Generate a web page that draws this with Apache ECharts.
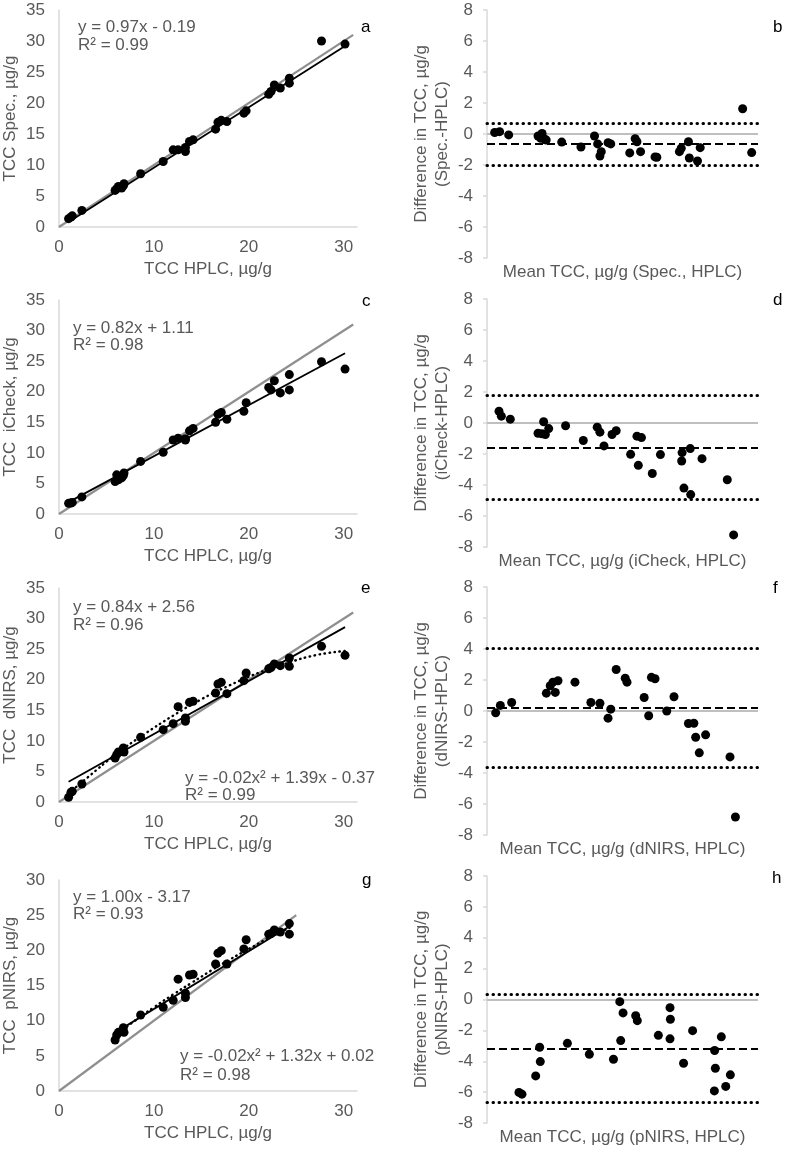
<!DOCTYPE html>
<html><head><meta charset="utf-8">
<script src="https://cdn.jsdelivr.net/npm/echarts@6/dist/echarts.min.js"></script>
<style>html,body{margin:0;padding:0;background:#fff}#c{width:785px;height:1149px}</style>
</head><body><div id="c"></div>
<script>
// ---------- data ----------
const hplc    = [1.01,1.26,1.40,2.41,5.91,6.08,6.26,6.60,6.78,6.85,8.60,10.98,12.03,12.55,13.32,13.32,13.75,14.13,16.50,16.75,17.10,17.69,19.48,19.72,22.10,22.34,22.69,23.32,24.27,24.27,27.66,30.14];
const specY   = [1.34,1.61,1.80,2.68,5.90,6.17,6.55,6.28,6.66,6.98,8.59,10.57,12.45,12.45,12.18,12.83,13.80,14.06,15.78,16.90,17.20,17.00,18.36,18.73,21.40,21.85,22.90,22.40,23.20,24.00,30.00,29.50];
const icheckY = [1.74,1.80,1.90,2.80,5.30,6.40,5.60,5.90,6.30,6.70,8.60,10.10,12.10,12.40,12.10,12.30,13.60,14.00,15.00,16.30,16.60,15.50,16.80,18.20,20.70,20.30,21.80,19.80,22.80,20.30,24.90,23.70];
const dnirsY  = [0.76,1.58,1.74,2.94,7.20,7.74,8.18,8.29,8.83,8.18,10.58,11.83,12.81,15.59,13.74,13.20,16.30,16.47,17.83,19.30,19.57,17.72,19.85,21.10,21.80,22.00,22.57,22.30,22.19,23.55,25.46,23.99];
const pnirsX  = [5.91,6.08,6.26,6.60,6.78,6.85,8.60,10.98,12.03,12.55,13.32,13.32,13.75,14.13,16.50,16.75,17.10,17.69,19.48,19.72,22.10,22.34,22.69,23.32,24.27,24.27];
const pnirsY  = [7.25,7.96,8.34,8.44,9.00,8.34,10.80,11.90,12.90,15.90,13.90,13.30,16.50,16.60,18.05,19.60,19.95,18.05,20.20,21.50,22.30,22.40,22.90,22.60,22.30,23.80];

// 1:1 lines and fitted trendlines
const identityX = [0, 31],  identityY = [0, 31];
const identityGX = [0, 25], identityGY = [0, 25];
const specFitX   = [1.01, 30.14], specFitY   = [0.80, 29.20];
const icheckFitX = [1.01, 30.14], icheckFitY = [1.94, 26.30];
const dnirsFitX  = [1.01, 30.14], dnirsFitY  = [3.30, 28.60];
const pnirsFitX  = [5.91, 24.27], pnirsFitY  = [8.30, 23.40];
const dnirsCurveX = [1, 3, 6, 9, 12, 15, 18, 21, 24, 27, 30.1];
const dnirsCurveY = [1.4, 4.0, 7.8, 11.1, 14.1, 16.8, 19.1, 21.1, 22.7, 24.0, 24.7];
const pnirsCurveX = [5.9, 8, 10, 12, 14, 16, 18, 20, 22, 24.3];
const pnirsCurveY = [7.9, 10.0, 11.9, 13.7, 15.4, 17.1, 18.7, 20.2, 21.7, 23.2];

// Bland-Altman panels (mean, difference)
const baSpecX = [0.85,1.40,2.40,5.65,6.10,5.95,6.40,6.55,8.27,10.40,11.90,12.25,12.50,12.65,13.40,13.70,15.80,16.40,16.60,17.00,18.60,18.80,21.30,21.50,22.30,22.40,23.30,23.60,28.30,29.30];
const baSpecY = [0.10,0.15,-0.06,-0.13,0.04,-0.28,-0.34,-0.39,-0.52,-0.84,-0.13,-0.64,-1.42,-1.14,-0.56,-0.64,-1.22,-0.30,-0.50,-1.14,-1.48,-1.50,-1.14,-0.92,-0.50,-1.55,-1.74,-0.88,1.63,-1.20];
const baIcheckX = [1.33,1.59,2.58,5.65,6.09,6.27,6.46,6.83,8.70,10.66,12.20,12.50,12.95,13.84,14.30,15.90,16.60,16.75,17.10,18.30,19.20,21.55,21.60,21.80,22.50,22.55,23.80,26.60,27.30];
const baIcheckY = [0.76,0.44,0.25,-0.66,-0.70,0.08,-0.74,-0.36,-0.18,-1.13,-0.27,-0.59,-1.48,-0.74,-0.50,-2.02,-0.85,-2.73,-0.94,-3.26,-2.04,-2.45,-1.91,-4.20,-1.65,-4.62,-2.30,-3.66,-7.22];
const baDnirsX = [0.96,1.48,2.73,6.57,7.00,7.30,7.56,7.86,9.74,11.50,12.50,13.40,13.70,14.30,15.30,15.50,17.40,17.90,18.20,18.60,19.90,20.70,22.30,22.90,23.10,23.50,24.20,26.90,27.50];
const baDnirsY = [-0.12,0.36,0.55,1.15,1.63,1.86,1.20,1.95,1.86,0.55,0.50,-0.46,0.12,2.68,2.12,1.86,0.87,-0.31,2.17,2.08,0.00,0.92,-0.81,-0.79,-1.69,-2.70,-1.54,-2.96,-6.84];
const baPnirsX = [3.54,3.87,5.39,5.83,5.90,8.90,11.33,14.00,14.70,14.80,15.06,16.46,16.64,18.97,20.26,20.30,20.26,21.76,22.76,25.20,25.28,25.17,25.94,26.43,26.94];
const baPnirsY = [-6.02,-6.13,-4.95,-3.09,-4.02,-2.84,-3.55,-3.87,-0.14,-2.66,-0.87,-1.05,-1.37,-2.32,-0.53,-1.28,-2.55,-4.13,-2.02,-3.30,-4.45,-5.92,-2.42,-5.63,-4.88];
const baMean  = [-0.64, -1.57, 0.22, -3.18];
const baUpper = [0.69, 1.80, 4.06, 0.31];
const baLower = [-2.00, -4.93, -3.63, -6.67];

// tick settings / labels
const leftYMax = [35, 35, 35, 30];
const leftYNames = ['TCC Spec., µg/g', 'TCC  iCheck, µg/g', 'TCC  dNIRS, µg/g', 'TCC  pNIRS, µg/g'];
const baXNames = ['Mean TCC, µg/g (Spec., HPLC)', 'Mean TCC, µg/g (iCheck, HPLC)', 'Mean TCC, µg/g (dNIRS, HPLC)', 'Mean TCC, µg/g (pNIRS, HPLC)'];
const baYNames = ['Difference in TCC, µg/g\n(Spec.-HPLC)', 'Difference in TCC, µg/g\n(iCheck-HPLC)', 'Difference in TCC, µg/g\n(dNIRS-HPLC)', 'Difference in TCC, µg/g\n(pNIRS-HPLC)'];

// ---------- layout ----------
const FONT = '"Liberation Sans", Arial, sans-serif';
const GRAY_TXT = '#595959';
const AXIS = '#d9d9d9';
const leftGrids  = [{top:10,h:217},{top:300,h:214},{top:588,h:214},{top:880,h:211}];
const rightGrids = [{top:10,h:248},{top:299,h:248},{top:587,h:248},{top:876,h:247}];

const zip = (xs, ys) => xs.map((x, i) => [x, ys[i]]);
const txt = {color: GRAY_TXT, fontSize: 17, fontFamily: FONT};

const grid = [], xAxis = [], yAxis = [], series = [];

leftGrids.forEach((g, i) => {
  grid.push({left: 59, top: g.top, width: 298, height: g.h, containLabel: false, outerBoundsMode: 'none'});
  xAxis.push({gridIndex: grid.length-1, type: 'value', min: 0, max: 31.4, interval: 10,
    axisLine: {show: true, onZero: false, lineStyle: {color: AXIS, width: 1.5}},
    axisTick: {show: false}, splitLine: {show: false},
    axisLabel: Object.assign({margin: 12, showMaxLabel: false, formatter: v => (v % 10 === 0 ? String(v) : '')}, txt),
    name: 'TCC HPLC, µg/g', nameLocation: 'middle', nameGap: 34, nameMoveOverlap: false, nameTextStyle: txt});
  yAxis.push({gridIndex: grid.length-1, type: 'value', min: 0, max: leftYMax[i], interval: 5,
    axisLine: {show: true, onZero: false, lineStyle: {color: AXIS, width: 1.5}},
    axisTick: {show: false}, splitLine: {show: false},
    axisLabel: Object.assign({margin: 14}, txt),
    name: leftYNames[i], nameLocation: 'middle', nameGap: 40, nameMoveOverlap: false, nameTextStyle: txt});
});
rightGrids.forEach((g, i) => {
  grid.push({left: 487, top: g.top, width: 271, height: g.h, containLabel: false, outerBoundsMode: 'none'});
  xAxis.push({gridIndex: grid.length-1, type: 'value', min: 0, max: 30,
    axisLine: {show: false, onZero: false}, axisTick: {show: false}, axisLabel: {show: false}, splitLine: {show: false},
    name: baXNames[i], nameLocation: 'middle', nameGap: 6, nameMoveOverlap: false, nameTextStyle: txt});
  yAxis.push({gridIndex: grid.length-1, type: 'value', min: -8, max: 8, interval: 2,
    axisLine: {show: true, onZero: false, lineStyle: {color: AXIS, width: 1.5}},
    axisTick: {show: true, length: 4, lineStyle: {color: AXIS, width: 1.5}}, splitLine: {show: false},
    axisLabel: Object.assign({margin: 14}, txt),
    name: baYNames[i], nameLocation: 'middle', nameGap: 34, nameMoveOverlap: false,
    nameTextStyle: Object.assign({lineHeight: 21}, txt)});
});

function lineSeries(idx, xs, ys, style, smooth) {
  return {type: 'line', xAxisIndex: idx, yAxisIndex: idx, data: zip(xs, ys), showSymbol: false, symbol: 'none',
    smooth: !!smooth, silent: true, lineStyle: style, z: 2, animation: false};
}
function scatter(idx, xs, ys, markLine) {
  const s = {type: 'scatter', xAxisIndex: idx, yAxisIndex: idx, data: zip(xs, ys), symbolSize: 9,
    itemStyle: {color: '#000', opacity: 1}, z: 5, animation: false};
  if (markLine) s.markLine = markLine;
  return s;
}
const grayLine = {color: '#8f8f8f', width: 2.2};
const blackLine = {color: '#000', width: 1.8};
const dotLine = {color: '#000', width: 2.4, type: [0.5, 4.5], cap: 'round'};

// left panels
series.push(lineSeries(0, identityX, identityY, grayLine));
series.push(lineSeries(0, specFitX, specFitY, blackLine));
series.push(scatter(0, hplc, specY));
series.push(lineSeries(1, identityX, identityY, grayLine));
series.push(lineSeries(1, icheckFitX, icheckFitY, blackLine));
series.push(scatter(1, hplc, icheckY));
series.push(lineSeries(2, identityX, identityY, grayLine));
series.push(lineSeries(2, dnirsFitX, dnirsFitY, blackLine));
series.push(lineSeries(2, dnirsCurveX, dnirsCurveY, dotLine, true));
series.push(scatter(2, hplc, dnirsY));
series.push(lineSeries(3, identityGX, identityGY, grayLine));
series.push(lineSeries(3, pnirsFitX, pnirsFitY, blackLine));
series.push(lineSeries(3, pnirsCurveX, pnirsCurveY, dotLine, true));
series.push(scatter(3, pnirsX, pnirsY));

// Bland-Altman panels
const baX = [baSpecX, baIcheckX, baDnirsX, baPnirsX];
const baY = [baSpecY, baIcheckY, baDnirsY, baPnirsY];
for (let i = 0; i < 4; i++) {
  series.push(scatter(4 + i, baX[i], baY[i], {
    silent: true, symbol: 'none', label: {show: false}, animation: false,
    data: [
      {yAxis: 0, lineStyle: {color: '#bfbfbf', width: 1.8, type: 'solid'}},
      {yAxis: baMean[i], lineStyle: {color: '#000', width: 2, type: [8, 4]}},
      {yAxis: baUpper[i], lineStyle: {color: '#000', width: 3, type: [0.5, 5.5], cap: 'round'}},
      {yAxis: baLower[i], lineStyle: {color: '#000', width: 3, type: [0.5, 5.5], cap: 'round'}}
    ]
  }));
}

// annotation texts
function T(x, y, text, fill) {
  return {type: 'text', x: x, y: y, silent: true,
    style: {text: text, fill: fill || GRAY_TXT, font: '17px ' + FONT, textVerticalAlign: 'middle', verticalAlign: 'middle', textAlign: 'left', align: 'left'}};
}
const graphics = [
  T(78, 27, 'y = 0.97x - 0.19'), T(78, 45, 'R² = 0.99'),
  T(73, 328, 'y = 0.82x + 1.11'), T(73, 345, 'R² = 0.98'),
  T(73, 607, 'y = 0.84x + 2.56'), T(73, 625, 'R² = 0.96'),
  T(185, 778, 'y = -0.02x² + 1.39x - 0.37'), T(185, 795, 'R² = 0.99'),
  T(73, 897, 'y = 1.00x - 3.17'), T(73, 914, 'R² = 0.93'),
  T(180, 1056, 'y = -0.02x² + 1.32x + 0.02'), T(180, 1075, 'R² = 0.98'),
  T(361, 27, 'a', '#000'), T(773, 27, 'b', '#000'),
  T(362, 301, 'c', '#000'), T(773, 300, 'd', '#000'),
  T(361, 588, 'e', '#000'), T(773, 588, 'f', '#000'),
  T(362, 880, 'g', '#000'), T(772, 878, 'h', '#000')
];

const chart = echarts.init(document.getElementById('c'), null, {renderer: 'canvas'});
chart.setOption({
  animation: false,
  backgroundColor: '#fff',
  grid: grid, xAxis: xAxis, yAxis: yAxis, series: series,
  graphic: {elements: graphics}
});
</script></body></html>
